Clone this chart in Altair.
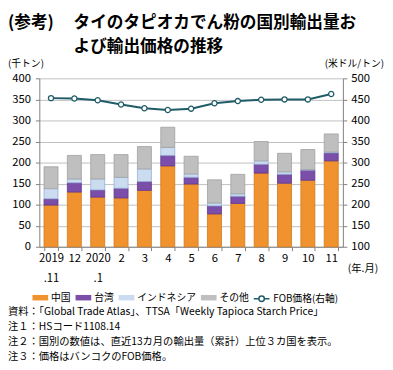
import altair as alt
import pandas as pd

FONT = "Noto Sans CJK JP"

months = ["2019|.11", "12", "2020|.1", "2", "3", "4", "5", "6", "7", "8", "9", "10", "11"]
series = ["中国", "台湾", "インドネシア", "その他"]
china = [99, 130, 118, 116, 134, 192, 149, 78, 103, 175, 151, 158, 204]
taiwan = [15, 22, 17, 23, 21, 25, 16, 19, 17, 21, 21, 24, 19]
indonesia = [24, 9, 26, 26, 30, 19, 8, 7, 6, 8, 6, 1, 2]
other = [52, 56, 58, 54, 53, 48, 42, 55, 46, 46, 44, 48, 43]
price = [453, 452, 448, 438, 429, 425, 428, 441, 446, 449, 450, 450, 463]
price_name = "FOB価格(右軸)"

fills = ["#F0922E", "#7B4FA9", "#CCDCF0", "#BFBFBF"]
strokes = ["#D47818", "#5E3590", "#94AFD6", "#A0A0A0"]
line_color = "#1F5C68"

title_tag = "(参考)"
title_lines = ["タイのタピオカでん粉の国別輸出量お", "よび輸出価格の推移"]
left_unit = "(千トン)"
right_unit = "(米ドル/トン)"
x_unit = "(年.月)"
notes = [
    "資料：「Global Trade Atlas」、TTSA「Weekly Tapioca Starch Price」",
    "注１：HSコード1108.14",
    "注２：国別の数値は、直近13カ月の輸出量（累計）上位３カ国を表示。",
    "注３：価格はバンコクのFOB価格。",
]

rows = []
for s_i, (name, vals) in enumerate(zip(series, [china, taiwan, indonesia, other])):
    for m, v in zip(months, vals):
        rows.append({"month": m, "series": name, "value": v, "ord": s_i})
bar_df = pd.DataFrame(rows)
line_df = pd.DataFrame({"month": months, "price": price, "name": price_name})

x_enc = alt.X(
    "month:N",
    sort=months,
    scale=alt.Scale(paddingInner=0.4, paddingOuter=0.2),
    axis=alt.Axis(
        title=None,
        labelAngle=0,
        labelExpr="split(datum.label, '|')",
        labelLineHeight=20,
        labelBaseline="top",
        tickBand="extent",
        tickSize=4,
        labelPadding=2,
        grid=False,
    ),
)

bars = alt.Chart(bar_df).mark_bar(strokeWidth=0.8).encode(
    x=x_enc,
    y=alt.Y(
        "value:Q",
        stack="zero",
        scale=alt.Scale(domain=[0, 400]),
        axis=alt.Axis(
            title=None,
            values=list(range(0, 401, 50)),
            grid=True,
            gridColor="#BFBFBF",
            tickSize=4,
            labelPadding=5,
        ),
    ),
    color=alt.Color(
        "series:N",
        sort=series,
        scale=alt.Scale(domain=series, range=fills),
        legend=alt.Legend(
            title=None,
            orient="none",
            legendX=-7,
            legendY=216,
            direction="horizontal",
            symbolType="M-1,-0.35H1V0.35H-1Z",
            symbolSize=256,
            symbolStrokeWidth=0,
            labelFont=FONT,
            labelFontSize=10,
            labelOffset=3,
            columnPadding=5,
        ),
    ),
    stroke=alt.Stroke("series:N", sort=series, scale=alt.Scale(domain=series, range=strokes), legend=None),
    order=alt.Order("ord:Q"),
)

y_right = alt.Y(
    "price:Q",
    scale=alt.Scale(domain=[100, 500]),
    axis=alt.Axis(
        title=None,
        orient="right",
        values=list(range(100, 501, 50)),
        grid=False,
        tickSize=4,
        labelPadding=4,
    ),
)

line = alt.Chart(line_df).mark_line(strokeWidth=2).encode(
    x=alt.X("month:N", sort=months),
    y=y_right,
    stroke=alt.Stroke(
        "name:N",
        scale=alt.Scale(domain=[price_name], range=[line_color]),
        legend=alt.Legend(
            title=None,
            orient="none",
            legendX=218,
            legendY=216,
            symbolType="M-1,0H-0.35M0.35,0H1M0.35,0A0.35,0.35,0,1,1,-0.35,0A0.35,0.35,0,1,1,0.35,0",
            symbolSize=256,
            symbolFillColor="white",
            symbolStrokeWidth=1.5,
            labelFont=FONT,
            labelFontSize=10,
            labelOffset=3,
        ),
    ),
)
points = alt.Chart(line_df).mark_point(
    filled=True, fill="white", stroke=line_color, strokeWidth=1.3, size=28, opacity=1
).encode(x=alt.X("month:N", sort=months), y=y_right)

price_layer = alt.layer(line, points)


def label(text, x, y, size=11, align="left", baseline="middle", weight="normal", line_height=None):
    kw = dict(align=align, baseline=baseline, font=FONT, fontSize=size, fontWeight=weight, color="#000")
    if line_height is not None:
        kw.update(lineBreak="\n", lineHeight=line_height)
    return alt.Chart(pd.DataFrame({"t": [text]})).mark_text(**kw).encode(
        x=alt.value(x), y=alt.value(y), text="t:N"
    )


texts = [
    label(title_tag, -32, -51, size=17, baseline="alphabetic", weight="bold"),
    label("\n".join(title_lines), 35, -51, size=17, baseline="alphabetic", weight="bold", line_height=24.5),
    label(left_unit, -32, -15, size=10),
    label(right_unit, 352, -15, size=10, align="right"),
    label(x_unit, 315, 195, size=10.5),
    label("\n".join(notes), -32, 234, size=10.5, baseline="top", line_height=15.2),
]

chart = (
    alt.layer(bars, price_layer, *texts)
    .resolve_scale(y="independent", stroke="independent")
    .properties(
        width=310,
        height=172,
        autosize=alt.AutoSizeParams(type="none"),
        padding={"left": 32, "top": 68, "right": 43, "bottom": 122},
    )
    .configure_view(stroke=None)
    .configure_axis(
        labelFont=FONT,
        labelFontSize=11.5,
        labelColor="#000",
        domainColor="#808080",
        tickColor="#808080",
    )
)

chart.save("out.html", embed_options={"renderer": "svg", "actions": False})
